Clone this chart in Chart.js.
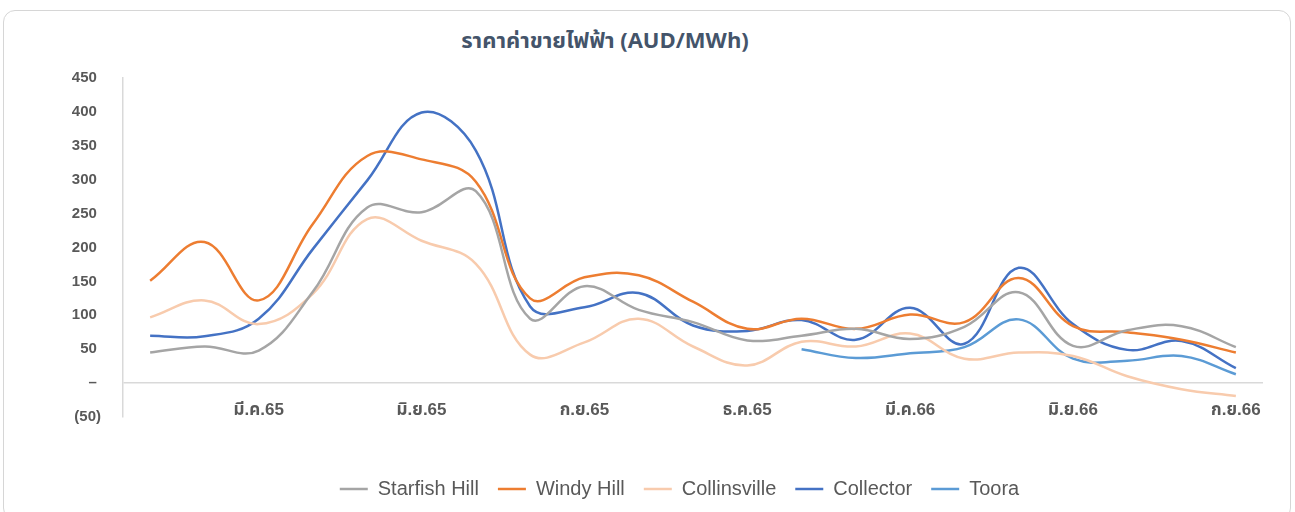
<!DOCTYPE html>
<html>
<head>
<meta charset="utf-8">
<script src="https://cdn.jsdelivr.net/npm/chart.js@4/dist/chart.umd.min.js"></script>
<style>
    body { margin: 0; background: #fff; width: 1295px; height: 512px; overflow: hidden; position: relative; }
    #card { position: absolute; left: 3px; top: 10px; width: 1288px; height: 510px; border: 1px solid #d6d6d6; border-radius: 12px; box-sizing: border-box; }
    #title { position: absolute; left: 0; top: 29px; width: 1210px; text-align: center; font: bold 22px "Noto Sans Thai", "Liberation Sans", sans-serif; line-height: 26px; color: #44546a; }
    #chartBox { position: absolute; left: 0; top: 0; }
</style>
</head>
<body>
<div id="card"></div>
<div id="title">ราคาค่าขายไฟฟ้า (AUD/MWh)</div>
<div id="chartBox"><canvas id="priceChart" width="1295" height="512"></canvas></div>
<script>
const months = ['ม.ค.65', 'ก.พ.65', 'มี.ค.65', 'เม.ย.65', 'พ.ค.65', 'มิ.ย.65', 'ก.ค.65', 'ส.ค.65', 'ก.ย.65', 'ต.ค.65', 'พ.ย.65', 'ธ.ค.65',
    'ม.ค.66', 'ก.พ.66', 'มี.ค.66', 'เม.ย.66', 'พ.ค.66', 'มิ.ย.66', 'ก.ค.66', 'ส.ค.66', 'ก.ย.66'];

const starfishHill = [45, 54, 48, 135, 259, 252, 283, 95, 143, 108, 90, 63, 70, 80, 65, 83, 134, 55, 78, 84, 53];
const windyHill = [151, 208, 122, 235, 335, 330, 297, 125, 156, 159, 120, 80, 95, 80, 101, 90, 155, 84, 75, 64, 45];
const collinsville = [97, 122, 87, 132, 242, 210, 176, 42, 60, 95, 54, 26, 61, 54, 73, 36, 45, 40, 10, -9, -19];
const collector = [70, 69, 95, 198, 299, 399, 343, 113, 112, 133, 85, 77, 93, 64, 111, 58, 170, 87, 49, 62, 22];
const toora = [null, null, null, null, null, null, null, null, null, null, null, null, 50, 37, 44, 53, 94, 36, 33, 40, 13];

function makeSet(label, data, color) {
    return {
        label: label,
        data: data,
        borderColor: color,
        backgroundColor: color,
        borderWidth: 2.5,
        pointRadius: 0,
        tension: 0.4,
        fill: false
    };
}

const tickFont = { family: "'Liberation Sans', 'Noto Sans Thai', sans-serif", size: 15, weight: 'bold' };

var ctx = document.getElementById('priceChart').getContext('2d');
var priceChart = new Chart(ctx, {
    type: 'line',
    data: {
        labels: months,
        datasets: [
            makeSet('Starfish Hill', starfishHill, '#a5a5a5'),
            makeSet('Windy Hill', windyHill, '#ed7d31'),
            makeSet('Collinsville', collinsville, '#f8cbad'),
            makeSet('Collector', collector, '#4472c4'),
            makeSet('Toora', toora, '#5b9bd5')
        ]
    },
    options: {
        responsive: false,
        animation: false,
        layout: {
            padding: { top: 78, right: 32, bottom: 3, left: 96 }
        },
        plugins: {
            title: { display: false },
            tooltip: { enabled: false },
            legend: {
                position: 'bottom',
                labels: {
                    usePointStyle: true,
                    pointStyle: 'line',
                    pointStyleWidth: 28,
                    padding: 19,
                    color: '#595959',
                    font: { family: "'Liberation Sans', sans-serif", size: 20 }
                }
            }
        },
        scales: {
            x: {
                position: { y: 0 },
                offset: true,
                grid: { display: false, drawTicks: false },
                border: { display: false },
                ticks: {
                    autoSkip: false,
                    maxRotation: 0,
                    padding: 17,
                    color: '#595959',
                    font: { family: "'Liberation Sans', 'Noto Sans Thai', sans-serif", size: 17, weight: 'bold' },
                    callback: function(value, index) {
                        return index % 3 === 2 ? this.getLabelForValue(value) : '';
                    }
                }
            },
            // empty band under the plot, keeps room between the plot and the legend
            spacer: {
                type: 'category',
                axis: 'x',
                position: 'bottom',
                grid: { display: false },
                border: { display: false },
                ticks: { display: false },
                afterFit: function(scale) { scale.height = 43; }
            },
            y: {
                min: -50,
                max: 450,
                afterFit: function(scale) {
                    scale.width = 27;
                    // labels sit left of the layout padding, so don't clip them to the axis box
                    scale._computeLabelArea = function() { return undefined; };
                },
                grid: {
                    drawTicks: false,
                    lineWidth: 1.5,
                    color: function(c) {
                        return c.tick && c.tick.value === 0 ? '#d9d9d9' : 'rgba(0,0,0,0)';
                    }
                },
                border: { display: true, color: '#d9d9d9', width: 1.5 },
                ticks: {
                    stepSize: 50,
                    padding: 22,
                    color: '#595959',
                    font: tickFont,
                    callback: function(value) {
                        if (value === 0) return '– ';
                        if (value < 0) return '(' + Math.abs(value) + ')';
                        return value + ' ';
                    }
                }
            }
        }
    }
});
</script>
</body>
</html>
